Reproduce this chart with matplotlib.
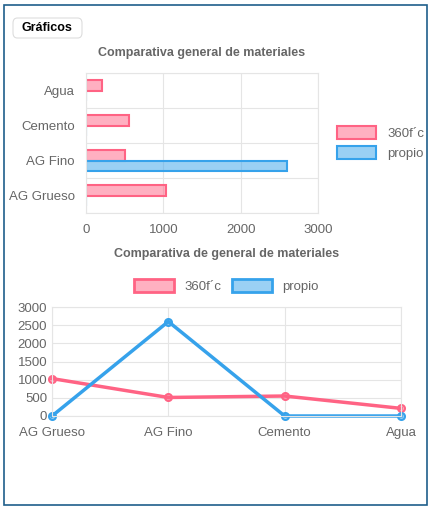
import matplotlib.pyplot as plt
from matplotlib.patches import FancyBboxPatch, Rectangle, Patch
import numpy as np

categories = ["Agua", "Cemento", "AG Fino", "AG Grueso"]
ref_360 = [210, 550, 510, 1030]
propio = [0, 0, 2600, 0]

line_cats = ["AG Grueso", "AG Fino", "Cemento", "Agua"]
line_360 = [1030, 510, 550, 210]
line_propio = [0, 2600, 0, 0]

pink = "#ff6384"
blue = "#36a2eb"
pink_fill = (1, 0.39, 0.52, 0.5)
blue_fill = (0.21, 0.64, 0.92, 0.5)
grid_c = "#e5e5e5"
txt = "#666666"

plt.rcParams["font.family"] = ["Liberation Sans", "DejaVu Sans"]
W, H = 436, 516
fig = plt.figure(figsize=(W / 100, H / 100), dpi=100)

# card border and button
fig.patches.append(Rectangle((4 / W, 1 - 505 / H), 423 / W, 500 / H, transform=fig.transFigure,
                             fill=False, ec="#1f5f8b", lw=1.2))
fig.patches.append(FancyBboxPatch((13 / W, 1 - 38 / H), 69 / W, 20 / H, transform=fig.transFigure,
                                  boxstyle="round,pad=0,rounding_size=0.01", fc="white", ec="#dddddd", lw=0.8))
fig.text(47 / W, 1 - 28 / H, "Gráficos", ha="center", va="center", fontsize=9, fontweight="bold")

# top horizontal bars
ax1 = fig.add_axes([86 / W, 1 - 213 / H, 232 / W, 140 / H])
y = np.arange(len(categories))
h = 0.3
ax1.barh(y - h / 2, ref_360, height=h, color=pink_fill, edgecolor=pink, lw=1.5, label="360f´c")
ax1.barh(y + h / 2, propio, height=h, color=blue_fill, edgecolor=blue, lw=1.5, label="propio")
ax1.set_yticks(y)
ax1.set_yticklabels(categories)
ax1.set_ylim(len(categories) - 0.5, -0.5)
ax1.set_xlim(0, 3000)
ax1.set_xticks([0, 1000, 2000, 3000])
ax1.set_yticks(np.arange(-0.5, 4, 1), minor=True)
ax1.grid(True, axis="x", color=grid_c)
ax1.grid(True, axis="y", which="minor", color=grid_c)
ax1.tick_params(which="both", length=0, labelsize=9.5, colors=txt, pad=8)
for s in ax1.spines.values():
    s.set_color(grid_c)
ax1.set_axisbelow(True)
ax1.set_title("Comparativa general de materiales", fontsize=9, color=txt, fontweight="bold", pad=12)
ax1.legend(loc="center left", bbox_to_anchor=(1.03, 0.5), frameon=False, fontsize=9.5,
           handlelength=3, handleheight=1.1, labelcolor=txt)

# bottom line chart
ax2 = fig.add_axes([52 / W, 1 - 416 / H, 349 / W, 109 / H])
x = np.arange(len(line_cats))
ax2.plot(x, line_360, color=pink, lw=2.5, marker="o", ms=5, mfc=pink_fill, mec=pink, mew=1.5,
         clip_on=False)
ax2.plot(x, line_propio, color=blue, lw=2.5, marker="o", ms=5, mfc=blue_fill, mec=blue, mew=1.5,
         clip_on=False)
ax2.set_xticks(x)
ax2.set_xticklabels(line_cats)
ax2.set_xlim(0, 3)
ax2.set_ylim(0, 3000)
ax2.set_yticks(range(0, 3001, 500))
ax2.grid(True, color=grid_c)
ax2.tick_params(length=0, labelsize=9.5, colors=txt)
ax2.tick_params(axis="x", pad=8)
for s in ax2.spines.values():
    s.set_color(grid_c)
ax2.set_axisbelow(True)
ax2.set_title("Comparativa de general de materiales", fontsize=9, color=txt, fontweight="bold", pad=36)
handles = [Patch(fc=pink_fill, ec=pink, lw=2, label="360f´c"),
           Patch(fc=blue_fill, ec=blue, lw=2, label="propio")]
ax2.legend(handles=handles, loc="lower center", bbox_to_anchor=(0.5, 1.02), ncol=2, frameon=False,
           fontsize=9.5, handlelength=3, handleheight=1.1, labelcolor=txt, columnspacing=0.8)

fig.savefig("out.png", dpi=100)
